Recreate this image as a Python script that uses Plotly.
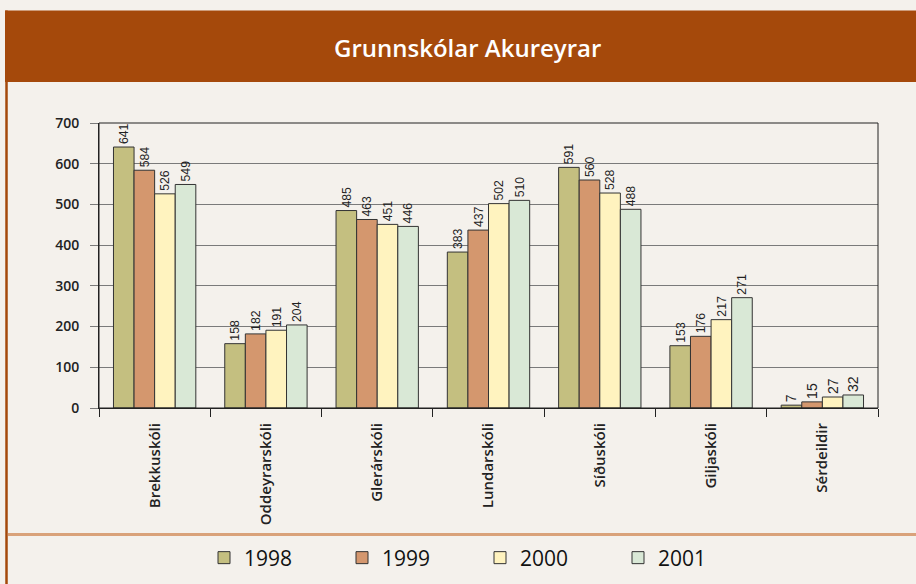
import plotly.graph_objects as go

categories = ["Brekkuskóli", "Oddeyrarskóli", "Glerárskóli", "Lundarskóli",
              "Síðuskóli", "Giljaskóli", "Sérdeildir"]
years = ["1998", "1999", "2000", "2001"]
v1998 = [641, 158, 485, 383, 591, 153, 7]
v1999 = [584, 182, 463, 437, 560, 176, 15]
v2000 = [526, 191, 451, 502, 528, 217, 27]
v2001 = [549, 204, 446, 510, 488, 271, 32]
series = [v1998, v1999, v2000, v2001]
colors = ["#c4bf80", "#d4976e", "#fff3bf", "#d9e8d6"]

W, H = 916, 584
L, R, T, B = 99, 878, 123, 408


def px(x):
    return (x - L) / (R - L)


def py(y):
    return (B - y) / (B - T)


fig = go.Figure()
for name, vals, c in zip(years, series, colors):
    fig.add_trace(go.Bar(
        x=categories, y=vals, name=name,
        marker=dict(color=c, line=dict(color="#333333", width=1)),
        text=[str(v) for v in vals], textposition="outside", textangle=-90,
        textfont=dict(family="Liberation Sans, Arial", size=14, color="#222"),
        cliponaxis=False,
    ))

shapes = [
    dict(type="rect", xref="paper", yref="paper", x0=px(5), x1=px(918),
         y0=py(82), y1=py(10.5), fillcolor="#a5490b", line=dict(width=0), layer="below"),
    dict(type="line", xref="paper", yref="paper", x0=px(6.5), x1=px(6.5),
         y0=py(10.5), y1=py(586), line=dict(color="#a5490b", width=2.5)),
    dict(type="line", xref="paper", yref="paper", x0=px(8), x1=px(918),
         y0=py(534.5), y1=py(534.5), line=dict(color="#d9a27a", width=3)),
    dict(type="rect", xref="paper", yref="paper", x0=0, x1=1, y0=0, y1=1,
         line=dict(color="#222", width=1)),
]

fig.update_layout(
    template="none",
    width=W, height=H,
    margin=dict(l=L, r=W - R, t=T, b=H - B, autoexpand=False),
    paper_bgcolor="#f4f1ec", plot_bgcolor="rgba(0,0,0,0)",
    barmode="group", bargap=0.26, bargroupgap=0,
    shapes=shapes,
    annotations=[dict(text="Grunnskólar Akureyrar", xref="paper", yref="paper",
                      x=px(467), y=py(47), xanchor="center", yanchor="middle", showarrow=False,
                      font=dict(family="Open Sans", size=24, color="white", weight=600))],
    legend=dict(orientation="h", xref="container", yref="container",
                x=480 / W, xanchor="center", y=(H - 558) / H, yanchor="middle",
                font=dict(family="Open Sans", size=21, color="#111"),
                entrywidth=93, entrywidthmode="pixels", bgcolor="rgba(0,0,0,0)",
                itemclick=False),
    showlegend=True,
)
fig.update_yaxes(range=[0, 700], dtick=100, showgrid=True, gridcolor="#7a7a7a", gridwidth=1,
                 ticks="outside", ticklen=8, tickcolor="#7a7a7a", ticklabelstandoff=8,
                 showline=True, linecolor="#222", linewidth=1, zeroline=False, automargin=False,
                 tickfont=dict(family="Open Sans", size=14, color="#222", weight=600))
fig.update_xaxes(showline=True, linecolor="#222", linewidth=1, tickangle=-90,
                 ticks="outside", ticklen=8, tickcolor="#222", tickson="boundaries",
                 ticklabelstandoff=8, automargin=False, showgrid=False,
                 tickfont=dict(family="Open Sans", size=15, color="#222", weight=600))

css = ("var s=document.createElement('style');"
       "s.textContent='html,body{margin:0;padding:0;overflow:hidden;background:#f4f1ec}';"
       "document.head.appendChild(s);")
fig.write_html("out.html", config={"displayModeBar": False}, post_script=css)
